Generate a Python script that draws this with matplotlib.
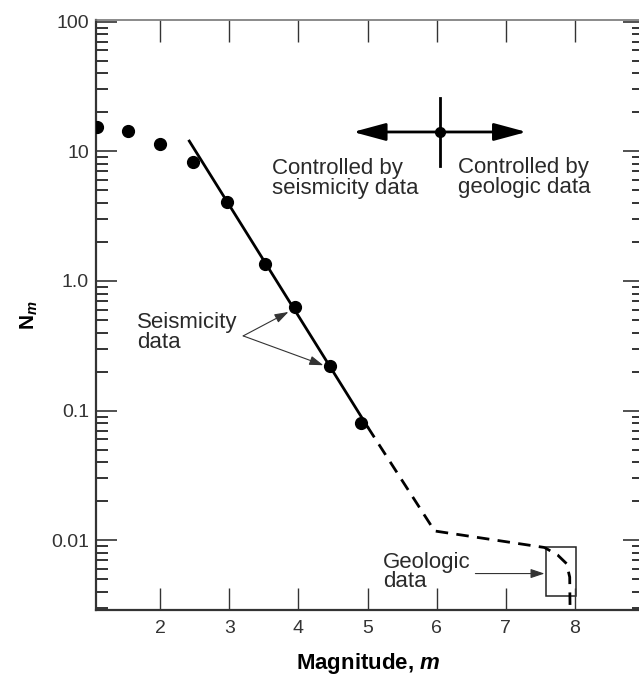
import matplotlib
matplotlib.use("Agg")
import matplotlib.pyplot as plt
from matplotlib.patches import Rectangle

plt.rcParams['font.family'] = ['Liberation Sans', 'DejaVu Sans']
plt.rcParams['mathtext.fontset'] = 'custom'
plt.rcParams['mathtext.bf'] = 'Liberation Sans:bold'
plt.rcParams['mathtext.it'] = 'Liberation Sans:italic:bold'
plt.rcParams['mathtext.rm'] = 'Liberation Sans:bold'

# observed cumulative rates (seismicity data)
mag_obs = [1.08, 1.54, 2.0, 2.48, 2.96, 3.51, 3.95, 4.46, 4.90]
n_obs = [15.3, 14.4, 11.3, 8.2, 4.1, 1.35, 0.635, 0.22, 0.080]

# fitted recurrence line (solid) and its extension (dashed)
fit_mag = [2.42, 5.0]
fit_n = [12.0, 0.075]
ext_mag = [5.0, 5.97, 7.56, 7.75, 7.88, 7.925, 7.93]
ext_n = [0.075, 0.0118, 0.0088, 0.0077, 0.0066, 0.0052, 0.0029]

# geologic data box
box_mag = [7.58, 8.01]
box_n = [0.0037, 0.0088]

# "controlled by" cross
cross_mag = 6.05
cross_n = 14.1
cross_left, cross_right = 4.79, 7.30
cross_low, cross_high = 7.7, 25.9

x_ticks = [2, 3, 4, 5, 6, 7, 8, 9]
y_ticks = [0.01, 0.1, 1.0, 10, 100]
y_ticklabels = ['0.01', '0.1', '1.0', '10', '100']

txt = '#2a2a2a'

fig = plt.figure(figsize=(6.39, 6.78), dpi=100)
ax = fig.add_axes([96 / 639, 68 / 678, 548 / 639, 590 / 678])

ax.plot(mag_obs, n_obs, 'o', color='black', markersize=8.5, zorder=3)
ax.plot(fit_mag, fit_n, '-', color='black', lw=2)
ax.plot(ext_mag, ext_n, color='black', lw=2, linestyle=(0, (4.5, 3)))
ax.add_patch(Rectangle((box_mag[0], box_n[0]), box_mag[1] - box_mag[0],
                       box_n[1] - box_n[0], fill=False, lw=1.1, edgecolor='#222'))

# cross with arrows
big_arrow = dict(arrowstyle='-|>,head_length=1.0,head_width=0.27',
                 mutation_scale=20, lw=2, color='black', shrinkA=0, shrinkB=0)
ax.annotate('', xy=(cross_left, cross_n), xytext=(cross_mag, cross_n), arrowprops=big_arrow)
ax.annotate('', xy=(cross_right, cross_n), xytext=(cross_mag, cross_n), arrowprops=big_arrow)
ax.plot([cross_mag, cross_mag], [cross_low, cross_high], color='black', lw=2)
ax.plot([cross_mag], [cross_n], 'o', color='black', markersize=7)

ax.text(3.62, 6.2, 'Controlled by\nseismicity data', fontsize=16, color=txt,
        ha='left', va='center', linespacing=0.92)
ax.text(6.31, 6.3, 'Controlled by\ngeologic data', fontsize=16, color=txt,
        ha='left', va='center', linespacing=0.92)

# seismicity data pointers
small_arrow = dict(arrowstyle='-|>,head_length=0.6,head_width=0.2',
                   mutation_scale=14, lw=0.8, color='#333', shrinkA=0, shrinkB=0)
ax.text(1.66, 0.40, 'Seismicity\ndata', fontsize=16, color=txt,
        ha='left', va='center', linespacing=0.92)
ax.annotate('', xy=(3.855, 0.577), xytext=(3.20, 0.377), arrowprops=small_arrow)
ax.annotate('', xy=(4.36, 0.224), xytext=(3.20, 0.377), arrowprops=small_arrow)

ax.text(5.22, 0.0057, 'Geologic\ndata', fontsize=16, color=txt,
        ha='left', va='center', linespacing=0.92)
ax.annotate('', xy=(7.56, 0.00554), xytext=(6.56, 0.00554), arrowprops=small_arrow)

ax.set_yscale('log')
ax.set_xlim(1.07, 9.0)
ax.set_ylim(0.0029, 103)
ax.set_xticks(x_ticks)
ax.set_xticklabels([str(t) for t in x_ticks])
ax.set_yticks(y_ticks)
ax.set_yticklabels(y_ticklabels)

ax.tick_params(axis='x', which='major', direction='in', length=16, width=1,
               top=True, bottom=True, labelsize=14, pad=7, colors='#333')
ax.tick_params(axis='x', which='minor', bottom=False, top=False)
ax.tick_params(axis='y', which='major', direction='in', length=15, width=1.2,
               left=True, right=True, labelsize=14, pad=5, colors='#333')
ax.tick_params(axis='y', which='minor', direction='in', length=8.5, width=1.4,
               left=True, right=True, colors='#333')

for side in ['left', 'bottom']:
    ax.spines[side].set_linewidth(1.6)
    ax.spines[side].set_color('#333')
ax.spines['top'].set_linewidth(1.2)
ax.spines['top'].set_color('#777')
ax.spines['right'].set_linewidth(1.2)

fig.text(368 / 639, 1 - 663 / 678, 'Magnitude, $m$', fontsize=16,
         fontweight='bold', ha='center', va='center', color='black')
fig.text(29 / 639, 1 - 315 / 678, r'$\mathbf{N}_m$', fontsize=15,
         rotation=90, ha='center', va='center', color='black')

fig.savefig('out.png', dpi=100)
